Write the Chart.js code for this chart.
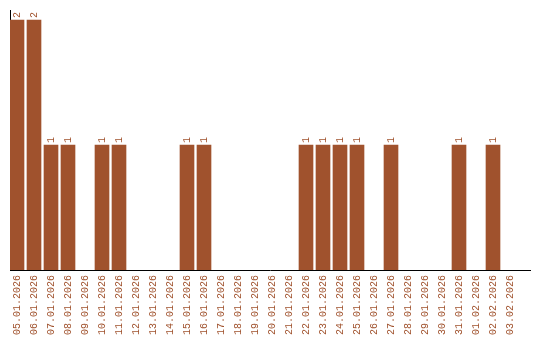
<!DOCTYPE html>
<html>
<head>
<meta charset="utf-8">
<script src="https://cdn.jsdelivr.net/npm/chart.js@4/dist/chart.umd.min.js"></script>
<style>
html,body{margin:0;padding:0;background:#fff;}
#wrap{width:540px;height:340px;}
</style>
</head>
<body>
<div id="wrap"><canvas id="c" width="540" height="340"></canvas></div>
<script>
const dates = ["05.01.2026","06.01.2026","07.01.2026","08.01.2026","09.01.2026","10.01.2026","11.01.2026","12.01.2026","13.01.2026","14.01.2026","15.01.2026","16.01.2026","17.01.2026","18.01.2026","19.01.2026","20.01.2026","21.01.2026","22.01.2026","23.01.2026","24.01.2026","25.01.2026","26.01.2026","27.01.2026","28.01.2026","29.01.2026","30.01.2026","31.01.2026","01.02.2026","02.02.2026","03.02.2026"];
const counts = [2,2,1,1,0,1,1,0,0,0,1,1,0,0,0,0,0,1,1,1,1,0,1,0,0,0,1,0,1,0];

const COLOR = '#A0522D';
const FAMILY = '"Liberation Mono", "Courier New", monospace';
const FONT = '10px ' + FAMILY;

const valueLabels = {
  id: 'valueLabels',
  afterDatasetsDraw(chart) {
    const ctx = chart.ctx;
    const meta = chart.getDatasetMeta(0);
    ctx.save();
    ctx.font = FONT;
    ctx.fillStyle = COLOR;
    ctx.textAlign = 'left';
    ctx.textBaseline = 'middle';
    meta.data.forEach((bar, i) => {
      const v = counts[i];
      if (!v) return;
      ctx.save();
      ctx.translate(bar.x, bar.y - 2);
      ctx.rotate(-Math.PI / 2);
      ctx.fillText(String(v), 0, 0);
      ctx.restore();
    });
    ctx.restore();
  }
};

new Chart(document.getElementById('c'), {
  type: 'bar',
  data: {
    datasets: [{
      data: counts.map((v, i) => ({x: i, y: v === 0 ? null : v})),
      backgroundColor: COLOR,
      borderWidth: 0,
      barThickness: 14
    }]
  },
  options: {
    responsive: false,
    animation: false,
    events: [],
    layout: {padding: {left: 10, top: 10, right: 10, bottom: 0}},
    plugins: {legend: {display: false}, tooltip: {enabled: false}},
    scales: {
      x: {
        type: 'linear',
        offset: false,
        min: -7/17,
        max: 29 + 20/17,
        grid: {display: false, drawTicks: false, offset: false},
        border: {display: true, color: '#000', width: 1},
        afterBuildTicks: s => { s.ticks = dates.map((_, i) => ({value: i})); },
        afterFit: s => { s.height = 70; s.paddingLeft = 0; s.paddingRight = 0; },
        ticks: {
          autoSkip: false,
          minRotation: 90,
          maxRotation: 90,
          padding: 5,
          color: COLOR,
          font: {family: FAMILY, size: 10},
          callback: v => dates[v] ?? ''
        }
      },
      y: {
        min: 0,
        max: 2.08,
        grid: {display: false, drawTicks: false},
        border: {display: true, color: '#000', width: 1},
        ticks: {display: false},
        afterFit: s => { s.width = 0; s.paddingTop = 0; s.paddingBottom = 0; }
      }
    }
  },
  plugins: [valueLabels]
});
</script>
</body>
</html>
